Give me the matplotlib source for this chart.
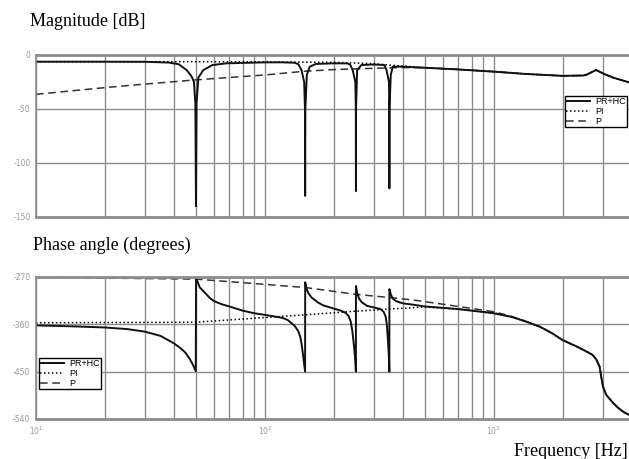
import numpy as np
import matplotlib
matplotlib.use("Agg")
import matplotlib.pyplot as plt
from matplotlib.ticker import FixedLocator, FixedFormatter, NullFormatter

# ---- data ----
# magnitude [dB]
mag_f_prhc = [10, 20, 30, 38, 42, 45.5, 47.9, 49, 49.7, 50, 50.3, 51.2, 53.8, 59, 68, 100,
              120, 135, 140, 144.6, 148.5, 149.7, 150, 150.3, 152.5, 157, 167, 200, 230,
              236, 242, 248.5, 249.7, 250, 250.3, 253, 264, 300, 333, 340, 348.5, 349.7,
              350, 350.3, 355, 362, 400, 490, 690, 1000, 1390, 2000, 2450, 2530, 2800,
              3040, 3330, 3900]
mag_prhc = [-6.2, -6.2, -6.3, -7, -8.5, -13.9, -20, -25, -45, -140, -45, -21, -14, -9.3, -7.7,
            -6.8, -6.8, -7.2, -8.5, -14, -25, -50, -130.5, -50, -18.5, -10.8, -8.3, -7.7, -7.8,
            -9, -14, -25, -50, -126, -50, -14, -9.3, -8.8, -9.3, -14, -25, -50,
            -123.5, -50, -18.5, -10.8, -10.8, -11.7, -13.3, -15.4, -17.6, -19.3, -19, -18.5, -13.9,
            -17.6, -21, -25.3]

mag_f_pi = [10, 50, 100, 200, 300, 350, 400, 490, 690, 1000, 1390, 2000, 2450, 2530, 2800,
            3040, 3330, 3900]
mag_pi = [-6.2, -6.2, -6.4, -6.8, -8, -9.3, -10.2, -11.7, -13.3, -15.4, -17.6, -19.3, -19,
          -18.5, -13.9, -17.6, -21, -25.3]

mag_f_p = [10, 20, 30, 50, 100, 150, 200, 300, 400, 490, 690, 1000, 1390, 2000, 2450, 2530,
           2800, 3040, 3330, 3900]
mag_p = [-36.4, -30.2, -26.9, -23, -18.5, -15, -13.5, -12.3, -11.6, -11.7, -13.3, -15.4,
         -17.6, -19.3, -19, -18.5, -13.9, -17.6, -21, -25.3]

# phase angle [deg]
ph_f_prhc = [10, 15, 20, 25, 30, 35, 40, 43, 45, 47, 48.5, 49.9,
             50.05, 52, 55, 57.5, 60, 65, 70, 80, 90, 100, 110, 120, 126, 130, 135, 140, 143,
             145, 147, 149.9,
             150.05, 152, 155, 160, 170, 180, 200, 215, 225, 232, 237, 241, 245, 248, 249.9,
             250.05, 253, 258, 265, 280, 300, 320, 330, 337, 341, 345, 348, 349.9,
             350.05, 355, 362, 375, 400, 450, 500, 700, 1000, 1200, 1390, 1600, 1800, 2000,
             2300, 2500, 2700, 2800, 2900, 2950, 3000, 3100, 3300, 3500, 3700, 3900]
ph_prhc = [-362, -364, -366, -369, -374, -382, -396, -406, -414, -426, -437, -449,
           -272, -290, -301, -310, -316, -322, -326, -334, -339, -342, -345, -348, -352, -357,
           -363, -373, -385, -400, -420, -450,
           -280, -292, -301, -309, -318, -324, -330, -334, -338, -344, -354, -372, -400, -425,
           -450,
           -287, -300, -311, -318, -325, -328, -331, -336, -345, -360, -390, -420, -450,
           -293, -303, -311, -316, -320, -323, -326, -331, -339, -346, -355, -365, -377, -390,
           -402, -410, -418, -426, -440, -460, -478, -494, -508, -519, -527, -532]

ph_f_pi = [10, 50, 100, 150, 250, 350, 500, 700, 1000, 1200, 1390, 1600, 1800, 2000, 2300,
           2500, 2700, 2800, 2900, 2950, 3000, 3100, 3300, 3500, 3700, 3900]
ph_pi = [-357, -356, -347, -342, -335, -331, -327, -331, -338, -346, -355, -365, -377, -390,
         -402, -410, -418, -426, -440, -460, -478, -494, -508, -519, -527, -532]

ph_f_p = [10, 50, 100, 150, 250, 350, 450, 700, 1000, 1200, 1390, 1600, 1800, 2000, 2300,
          2500, 2700, 2800, 2900, 2950, 3000, 3100, 3300, 3500, 3700, 3900]
ph_p = [-270.6, -274, -284, -290, -303, -309, -314, -326, -336, -345, -355, -365, -377, -390,
        -402, -410, -418, -426, -440, -460, -478, -494, -508, -519, -527, -532]

mag_ticks = [0, -50, -100, -150]
ph_ticks = [-270, -360, -450, -540]
dec_ticks = [10, 100, 1000]
dec_labels = [r'$10^{1}$', r'$10^{2}$', r'$10^{3}$']

grid_col = '#8c8c8c'
tick_col = '#999999'

fig = plt.figure(figsize=(6.29, 4.59), dpi=100)
W, H = 629.0, 459.0
ax1 = fig.add_axes([36 / W, 1 - 217 / H, 593 / W, 162 / H])
ax2 = fig.add_axes([36 / W, 1 - 419 / H, 593 / W, 142 / H])

minor = [m * 10 ** e for e in range(1, 4) for m in range(2, 10)]


def style_axes(ax, yticks, ylim):
    ax.set_xscale('log')
    ax.set_xlim(10, 3900)
    ax.set_ylim(*ylim)
    ax.set_yticks(yticks)
    ax.yaxis.set_major_formatter(FixedFormatter([str(t) for t in yticks]))
    ax.xaxis.set_major_locator(FixedLocator(dec_ticks))
    ax.xaxis.set_minor_locator(FixedLocator(minor))
    ax.xaxis.set_minor_formatter(NullFormatter())
    ax.grid(True, which='both', axis='x', color=grid_col, lw=1.0)
    ax.grid(True, which='major', axis='y', color=grid_col, lw=1.0)
    ax.set_axisbelow(True)
    ax.tick_params(which='both', length=0, labelsize=5.5, colors=tick_col, pad=4)
    for s in ['top', 'bottom']:
        ax.spines[s].set_color(grid_col)
        ax.spines[s].set_linewidth(2.0)
    ax.spines['left'].set_color(grid_col)
    ax.spines['left'].set_linewidth(1.2)
    ax.spines['right'].set_visible(False)


style_axes(ax1, mag_ticks, (-150, 0))
ax1.xaxis.set_major_formatter(NullFormatter())
ax1.plot(mag_f_pi, mag_pi, color='black', lw=1.1, ls=(0, (1, 1.6)), label='PI')
ax1.plot(mag_f_p, mag_p, color='#333333', lw=1.1, ls=(0, (5, 3)), label='P')
ax1.plot(mag_f_prhc, mag_prhc, color='#111111', lw=1.4, label='PR+HC')

style_axes(ax2, ph_ticks, (-540, -270))
ax2.set_xticklabels(dec_labels)
ax2.plot(ph_f_pi, ph_pi, color='black', lw=1.1, ls=(0, (1, 1.6)), label='PI')
ax2.plot(ph_f_p, ph_p, color='#333333', lw=1.1, ls=(0, (5, 3)), label='P')
ax2.plot(ph_f_prhc, ph_prhc, color='#111111', lw=1.4, label='PR+HC')

order = [2, 0, 1]
for ax, loc, anchor in [(ax1, 'upper right', (0.997, 0.747)), (ax2, 'upper left', (0.005, 0.43))]:
    h, l = ax.get_legend_handles_labels()
    leg = ax.legend([h[i] for i in order], [l[i] for i in order], loc=loc,
                    bbox_to_anchor=anchor, prop={'family': 'Liberation Sans', 'size': 6.5},
                    frameon=True, fancybox=False, edgecolor='black', framealpha=1,
                    labelspacing=0.1, handlelength=2.6, handletextpad=0.6, borderpad=0.15,
                    borderaxespad=0)
    leg.get_frame().set_linewidth(1.0)

serif = {'family': 'Liberation Serif', 'size': 13}
fig.text(30 / W, 1 - 22 / H, 'Magnitude [dB]', ha='left', va='center', fontdict=serif)
fig.text(33 / W, 1 - 245 / H, 'Phase angle (degrees)', ha='left', va='center', fontdict=serif)
fig.text(628 / W, 1 - 452 / H, 'Frequency [Hz]', ha='right', va='center', fontdict=serif)

fig.savefig('out.png', dpi=100)
